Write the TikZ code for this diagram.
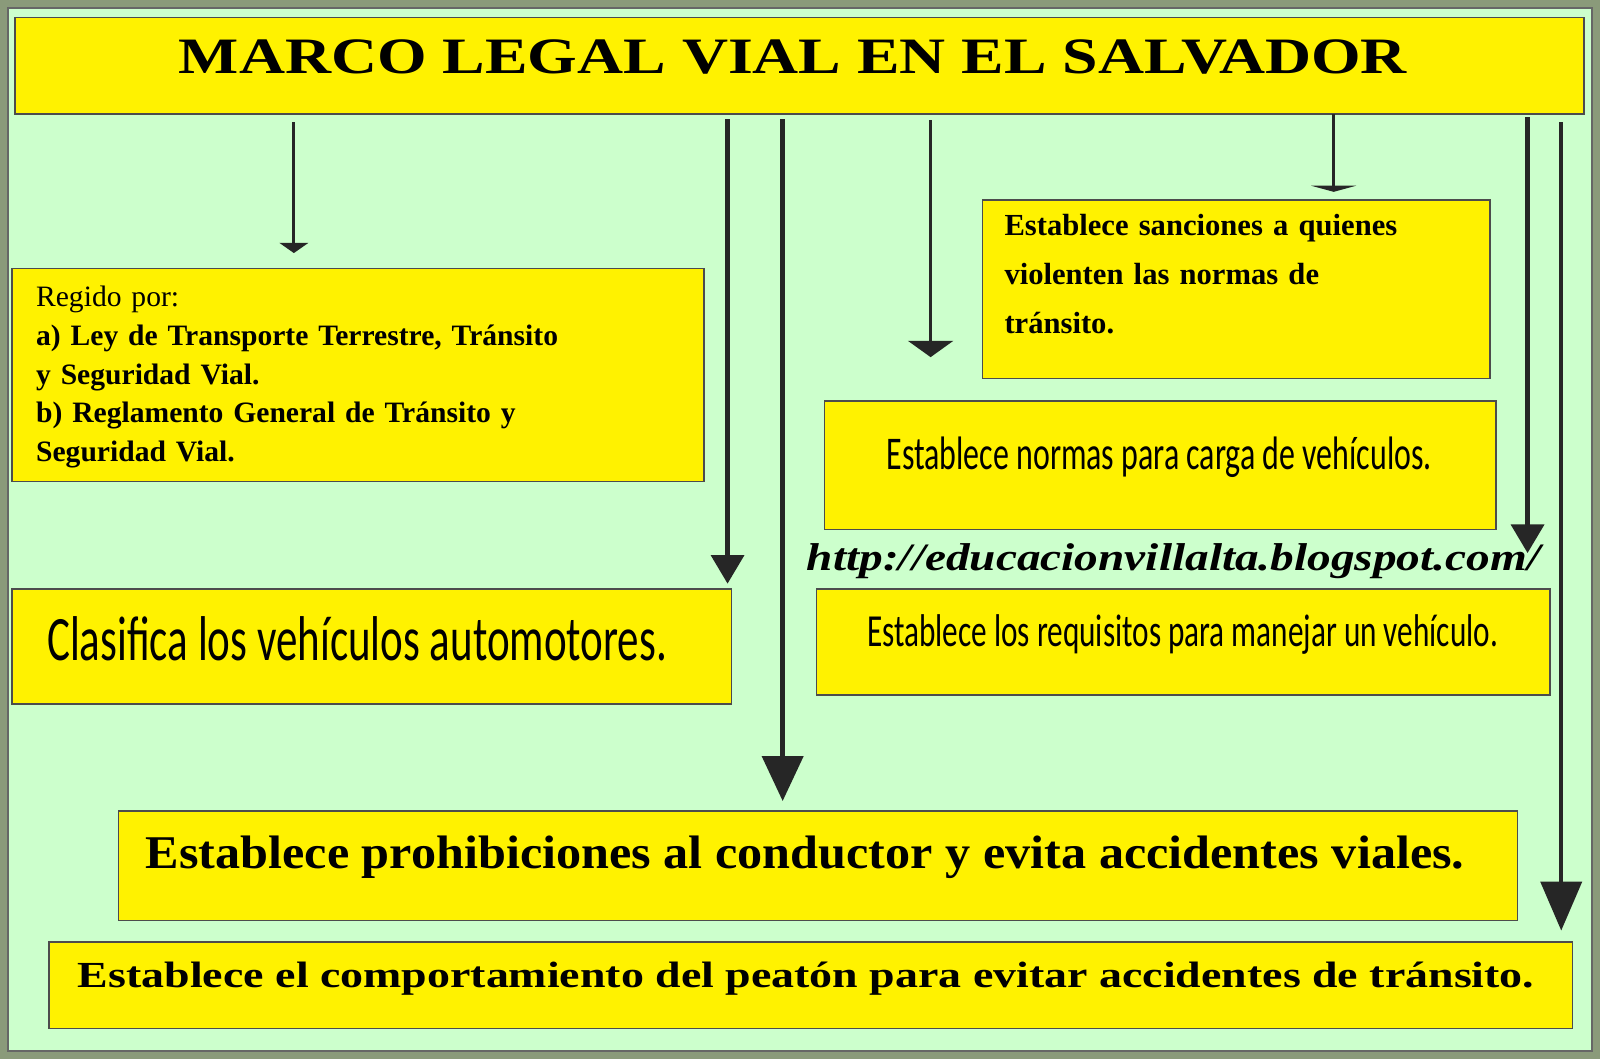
\documentclass[tikz,border=0pt]{standalone}
\usepackage{fontspec}
\setmainfont{Liberation Serif}
\newfontfamily\narrowf[FakeStretch=0.68]{Carlito}
\usetikzlibrary{arrows.meta}
\definecolor{bg}{HTML}{CCFFCC}
\definecolor{frm}{HTML}{8A9A7A}
\newcommand{\jline}[1]{\makebox[\hsize][s]{#1}}
\tikzset{
 ybox/.style={draw=black!70,line width=0.8pt,fill=yellow},
 arr/.style={line width=2.2pt,draw=black!85,-{Triangle[length=14pt,width=16pt]}},
 sarr/.style={line width=1.5pt,draw=black!85,-{Triangle[length=5pt,width=14pt]}}
}
\begin{document}
\begin{tikzpicture}[x=0.5pt,y=-0.5pt]
\useasboundingbox (0,0) rectangle (1568,1038);
\fill[frm] (0,0) rectangle (1568,1038);
\fill[bg] (8,8) rectangle (1560,1030);
\draw[black!60,line width=1pt] (8,8) rectangle (1560,1030);
% boxes
\node[ybox,minimum width=768.5pt,minimum height=47.5pt] (title) at (783.5,64.5) {};
\node at (777,56) {\scalebox{1.25}[1]{\fontsize{25}{27}\selectfont\bfseries MARCO\ LEGAL\ VIAL\ EN\ EL\ SALVADOR}};
\node[ybox,minimum width=339pt,minimum height=104.5pt] (reg) at (351,367.5) {};
\node[anchor=north west,text width=315pt,align=left,font=\fontsize{14.5}{19}\selectfont,inner sep=0pt] (regt) at (35,280) {Regido por:\\ \bfseries\jline{a) Ley de Transporte Terrestre, Tránsito}\\ y Seguridad Vial.\\ \jline{b) Reglamento General de Tránsito y}\\ Seguridad Vial.};
\node[ybox,minimum width=352.5pt,minimum height=56.5pt] (cla) at (364.5,633.5) {};
\node[font=\narrowf\fontsize{31}{33}\selectfont] at (350,626) {Clasifica los vehículos automotores.};
\node[ybox,minimum width=248.5pt,minimum height=87.5pt] (san) at (1211.5,283.5) {};
\node[anchor=north west,text width=229.5pt,align=left,inner sep=0pt,font=\bfseries\fontsize{15}{24}\selectfont] at (984,210) {\jline{Establece sanciones a quienes}\\ \jline{violenten las normas de}\\ tránsito.};
\node[ybox,minimum width=329pt,minimum height=63pt] (car) at (1137,456) {};
\node[font=\narrowf\fontsize{23}{25}\selectfont] at (1136,448) {Establece normas para carga de vehículos.};
\node[ybox,minimum width=359.5pt,minimum height=52pt] (req) at (1159.5,629) {};
\node[font=\narrowf\fontsize{22.5}{24}\selectfont] at (1159,622) {Establece los requisitos para manejar un vehículo.};
\node[ybox,minimum width=685.5pt,minimum height=53.5pt] (pro) at (801.5,848.5) {};
\node at (789,840) {\scalebox{1.07}[1]{\bfseries\fontsize{23}{25}\selectfont Establece prohibiciones al conductor y evita accidentes viales.}};
\node[ybox,minimum width=746.5pt,minimum height=42.5pt] (pea) at (794.5,965.5) {};
\node at (790,959) {\scalebox{1.25}[1]{\bfseries\fontsize{18}{20}\selectfont Establece el comportamiento del peatón para evitar accidentes de tránsito.}};
\node (url) at (1150,550) {\scalebox{1.22}[1]{\bfseries\itshape\fontsize{19}{21}\selectfont http://educacionvillalta.blogspot.com/}};
% arrows
\coordinate (a1s) at (288,120); \coordinate (a1e) at (288,248);
\coordinate (a2s) at (713,117); \coordinate (a2e) at (713,572);
\coordinate (a3s) at (767,117); \coordinate (a3e) at (767,785);
\coordinate (a4s) at (912,118); \coordinate (a4e) at (912,350);
\coordinate (a5s) at (1307,112); \coordinate (a5e) at (1307,188);
\coordinate (a6s) at (1497,115); \coordinate (a6e) at (1497,542);
\coordinate (a7s) at (1530,120); \coordinate (a7e) at (1530,912);
\draw[sarr] (a1s) -- (a1e);
\draw[arr] (a2s) -- (a2e);
\draw[arr,-{Triangle[length=22pt,width=20pt]}] (a3s) -- (a3e);
\draw[sarr,-{Triangle[length=8pt,width=22pt]}] (a4s) -- (a4e);
\draw[sarr,line width=1.2pt,-{Triangle[length=3pt,width=22pt]}] (a5s) -- (a5e);
\draw[arr] (a6s) -- (a6e);
\draw[arr,-{Triangle[length=24pt,width=20pt]}] (a7s) -- (a7e);
\end{tikzpicture}
\end{document}
